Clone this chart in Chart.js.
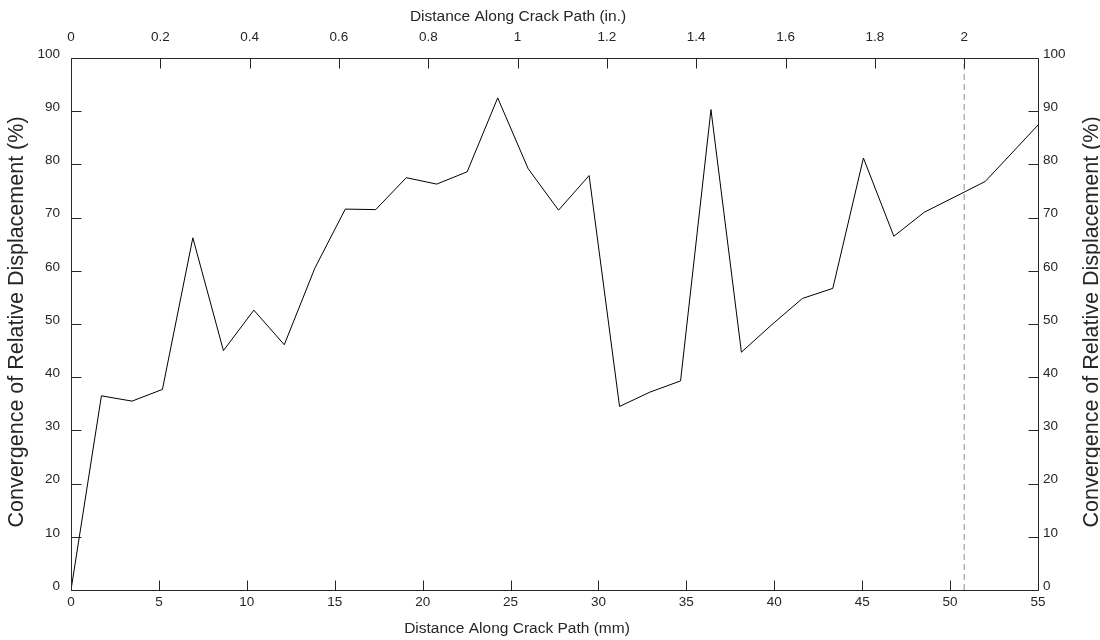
<!DOCTYPE html>
<html>
<head>
<meta charset="utf-8">
<title>Convergence of Relative Displacement</title>
<script src="https://cdn.jsdelivr.net/npm/chart.js@4.4.1/dist/chart.umd.min.js"></script>
<style>
  html, body { margin: 0; padding: 0; background: #ffffff; }
  #wrap { width: 1100px; height: 640px; }
</style>
</head>
<body>
<div id="wrap"><canvas id="c" width="1100" height="640"></canvas></div>
<script>
// Distance along the crack path (mm) and convergence (%) at each station
const distanceMm = [0, 1.73, 3.47, 5.2, 6.93, 8.67, 10.4, 12.13, 13.87, 15.6, 17.33,
  19.07, 20.8, 22.53, 24.27, 26.0, 27.73, 29.47, 31.2, 32.93, 34.67, 36.4, 38.13,
  39.87, 41.6, 43.33, 45.07, 46.8, 48.53, 50.27, 52.0, 53.73, 55.0];
const convergencePct = [0, 36.5, 35.5, 37.7, 66.2, 45.0, 52.6, 46.1, 60.5, 71.6, 71.5,
  77.5, 76.3, 78.6, 92.5, 79.2, 71.4, 77.9, 34.5, 37.2, 39.3, 90.3, 44.7,
  49.9, 54.8, 56.7, 81.2, 66.5, 71.0, 73.9, 76.8, 82.9, 87.4];

// Reference marker at 2 in. (50.8 mm)
const markerMm = [50.8, 50.8];
const markerPct = [0, 100];

// Tick labels
const mmTicks = [0, 5, 10, 15, 20, 25, 30, 35, 40, 45, 50, 55];
const inchTicks = [0, 0.2, 0.4, 0.6, 0.8, 1, 1.2, 1.4, 1.6, 1.8, 2];
const pctTicks = [0, 10, 20, 30, 40, 50, 60, 70, 80, 90, 100];

const MM_PER_INCH = 25.4;
const xMaxMm = 55;

const INK = '#262626';
const FAMILY = '"Liberation Sans", Arial, Helvetica, sans-serif';
const tickFont = { family: FAMILY, size: 13.5 };
const xTitleFont = '15.5px ' + FAMILY;
const yTitleFont = '21.5px ' + FAMILY;

const toPoints = (xs, ys) => xs.map((x, i) => ({ x: x, y: ys[i] }));
const fixedTicks = list => scale => { scale.ticks = list.map(v => ({ value: v })); };

// Box frame, inward tick marks and the four axis titles
const framePlugin = {
  id: 'frameAndTitles',
  afterDraw(chart) {
    const { ctx, chartArea: a, scales } = chart;
    const L = Math.round(a.left) + 0.5, R = Math.round(a.right) + 0.5;
    const T = Math.round(a.top) + 0.5, B = Math.round(a.bottom) + 0.5;
    const len = 10;
    ctx.save();
    ctx.strokeStyle = INK;
    ctx.lineWidth = 1;
    ctx.beginPath();
    ctx.rect(L, T, R - L, B - T);
    ctx.stroke();

    ctx.beginPath();
    scales.x.ticks.forEach(t => {
      const px = Math.round(scales.x.getPixelForValue(t.value)) + 0.5;
      ctx.moveTo(px, B); ctx.lineTo(px, B - len);
    });
    scales.x2.ticks.forEach(t => {
      const px = Math.round(scales.x2.getPixelForValue(t.value)) + 0.5;
      ctx.moveTo(px, T); ctx.lineTo(px, T + len);
    });
    scales.y.ticks.forEach(t => {
      const py = Math.round(scales.y.getPixelForValue(t.value)) + 0.5;
      ctx.moveTo(L, py); ctx.lineTo(L + len, py);
    });
    scales.y2.ticks.forEach(t => {
      const py = Math.round(scales.y2.getPixelForValue(t.value)) + 0.5;
      ctx.moveTo(R, py); ctx.lineTo(R - len, py);
    });
    ctx.stroke();

    ctx.fillStyle = INK;
    ctx.textAlign = 'center';
    ctx.textBaseline = 'middle';
    ctx.font = xTitleFont;
    ctx.fillText('Distance Along Crack Path (mm)', 517, 628.5);
    ctx.fillText('Distance Along Crack Path (in.)', 518, 16.5);
    ctx.font = yTitleFont;
    const yTitle = 'Convergence of Relative Displacement (%)';
    [17.5, 1092].forEach(x => {
      ctx.save();
      ctx.translate(x, 322);
      ctx.rotate(-Math.PI / 2);
      ctx.fillText(yTitle, 0, 0);
      ctx.restore();
    });
    ctx.restore();
  }
};

const tickOpts = (extra) => Object.assign({
  font: tickFont, color: INK, autoSkip: false, maxRotation: 0, minRotation: 0,
  callback: v => String(v)
}, extra);

new Chart(document.getElementById('c'), {
  type: 'line',
  data: {
    datasets: [
      {
        data: toPoints(distanceMm, convergencePct),
        borderColor: '#000000', borderWidth: 1, pointRadius: 0, tension: 0,
        fill: false, xAxisID: 'x', yAxisID: 'y'
      },
      {
        data: toPoints(markerMm, markerPct),
        borderColor: '#8c8c8c', borderWidth: 1, borderDash: [6, 4], pointRadius: 0,
        fill: false, xAxisID: 'x', yAxisID: 'y'
      }
    ]
  },
  options: {
    responsive: false,
    devicePixelRatio: 1,
    animation: false,
    events: [],
    layout: { padding: 0 },
    plugins: { legend: { display: false }, tooltip: { enabled: false }, title: { display: false } },
    scales: {
      x: {
        type: 'linear', position: 'bottom', min: 0, max: xMaxMm,
        afterBuildTicks: fixedTicks(mmTicks),
        ticks: tickOpts({ padding: 4 }),
        grid: { display: false, drawTicks: false }, border: { display: false },
        afterFit: s => { s.height = 50; }
      },
      x2: {
        type: 'linear', position: 'top', min: 0, max: xMaxMm / MM_PER_INCH,
        afterBuildTicks: fixedTicks(inchTicks),
        ticks: tickOpts({ padding: 13 }),
        grid: { display: false, drawTicks: false }, border: { display: false },
        afterFit: s => { s.height = 58; }
      },
      y: {
        type: 'linear', position: 'left', min: 0, max: 100,
        afterBuildTicks: fixedTicks(pctTicks),
        ticks: tickOpts({ padding: 11, labelOffset: -4 }),
        grid: { display: false, drawTicks: false }, border: { display: false },
        afterFit: s => { s.width = 71; }
      },
      y2: {
        type: 'linear', position: 'right', min: 0, max: 100,
        afterBuildTicks: fixedTicks(pctTicks),
        ticks: tickOpts({ padding: 5, labelOffset: -4 }),
        grid: { display: false, drawTicks: false }, border: { display: false },
        afterFit: s => { s.width = 62; }
      }
    }
  },
  plugins: [framePlugin]
});
</script>
</body>
</html>
